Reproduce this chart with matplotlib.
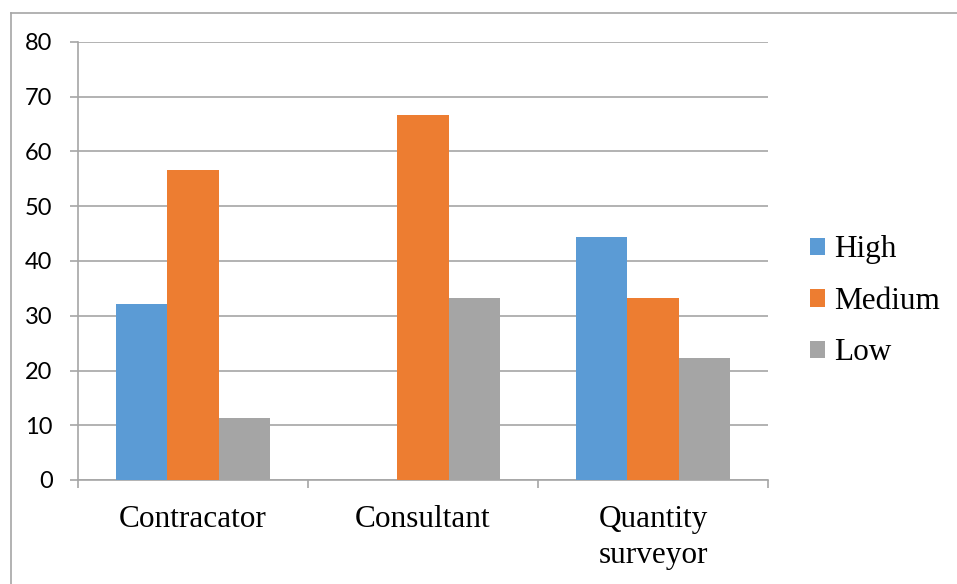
import matplotlib
matplotlib.use("Agg")
import matplotlib.pyplot as plt
from matplotlib.patches import Patch
from matplotlib.lines import Line2D
import numpy as np

plt.rcParams["font.family"] = ["Liberation Serif", "DejaVu Serif"]

categories = ["Contracator", "Consultant", "Quantity\nsurveyor"]
series_names = ["High", "Medium", "Low"]
high = [32.1, 0.0, 44.4]
medium = [56.6, 66.7, 33.3]
low = [11.3, 33.3, 22.2]
y_ticks = [0, 10, 20, 30, 40, 50, 60, 70, 80]

colors = ["#5B9BD5", "#ED7D31", "#A5A5A5"]
line_gray = "#A6A6A6"

W, H = 957, 584
fig = plt.figure(figsize=(W / 100, H / 100), dpi=100)
ax = fig.add_axes([78 / W, 1 - 480 / H, (768 - 78) / W, (480 - 42) / H])

x = np.arange(len(categories))
bw = 0.222
for i, (vals, name) in enumerate(zip([high, medium, low], series_names)):
    ax.bar(x + (i - 1) * bw, vals, width=bw, color=colors[i], label=name, zorder=3)

ax.set_xlim(-0.5, 2.5)
ax.set_ylim(0, 80)
ax.yaxis.grid(True, color=line_gray, linewidth=1.2, zorder=0)
ax.tick_params(axis="y", length=5.8, width=1.2, color=line_gray, pad=12.5)
ax.tick_params(axis="x", which="major", length=0, pad=18)
ax.tick_params(axis="x", which="minor", length=5.8, width=1.2, color=line_gray)
ax.set_xticks([-0.5, 0.5, 1.5, 2.5], minor=True)

ax.set_yticks(y_ticks)
ax.set_yticklabels([str(v) for v in y_ticks], family="Lato", fontsize=17)
ax.set_xticks(x)
ax.set_xticklabels(categories, fontsize=22.5, linespacing=1.32,
                   multialignment="center")

for s in ["top", "right"]:
    ax.spines[s].set_visible(False)
for s in ["left", "bottom"]:
    ax.spines[s].set_color(line_gray)
    ax.spines[s].set_linewidth(1.2)

handles = [Patch(facecolor=c, edgecolor="none") for c in colors]
fig.legend(handles, series_names, loc="upper left",
           bbox_to_anchor=(797 / W, 1 - 223 / H), frameon=False,
           fontsize=22.5,
           handlelength=0.5, handleheight=0.5, handletextpad=0.3,
           labelspacing=0.72, borderaxespad=0)

# outer chart frame
fig.add_artist(Line2D([10.5 / W, 10.5 / W], [0, 1 - 12.5 / H],
                      transform=fig.transFigure, color=line_gray, linewidth=1.2))
fig.add_artist(Line2D([10.5 / W, 1], [1 - 12.5 / H, 1 - 12.5 / H],
                      transform=fig.transFigure, color=line_gray, linewidth=1.2))

fig.savefig("out.png", dpi=100)
